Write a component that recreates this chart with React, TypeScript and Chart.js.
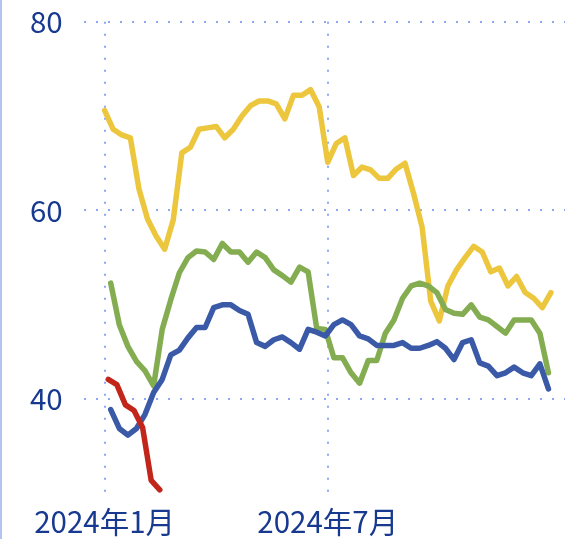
import React, { useEffect, useRef } from "react";
import { Chart, registerables } from "chart.js";

Chart.register(...registerables);

// x positions are day-of-year 2024 (weekly observations)
const xTickDays = [0, 182];
const xTickLabels = ["2024年1月", "2024年7月"];
const yTickValues = [40, 60, 80];

const yellowStartDay = 0;
const yellowValues = [
  70.6, 68.6, 68.0, 67.7, 62.3, 59.1, 57.3, 55.9, 59.0, 66.1, 66.7, 68.6, 68.75, 68.9,
  67.7, 68.6, 70.0, 71.1, 71.6, 71.6, 71.3, 69.7, 72.2, 72.2, 72.8, 71.0, 65.1, 67.1,
  67.7, 63.7, 64.6, 64.3, 63.4, 63.4, 64.4, 65.0, 61.8, 58.2, 50.4, 48.3, 52.0, 53.7,
  55.0, 56.2, 55.6, 53.5, 53.9, 52.0, 53.0, 51.3, 50.7, 49.7, 51.3,
];

const greenStartDay = 5;
const greenValues = [
  52.3, 47.9, 45.6, 44.0, 43.0, 41.4, 47.4, 50.55, 53.4, 55.0, 55.7, 55.6, 54.8, 56.5,
  55.6, 55.6, 54.5, 55.6, 55.0, 53.7, 53.1, 52.4, 54.0, 53.5, 47.5, 47.4, 44.4, 44.4,
  42.8, 41.7, 44.1, 44.1, 47.0, 48.4, 50.7, 52.0, 52.3, 52.0, 51.3, 49.5, 49.1, 49.0,
  50.0, 48.7, 48.4, 47.7, 47.0, 48.4, 48.4, 48.4, 47.0, 42.8,
];

const blueStartDay = 5;
const blueValues = [
  38.9, 36.9, 36.2, 36.9, 38.4, 40.7, 42.1, 44.7, 45.2, 46.5, 47.6, 47.6, 49.7, 50.0,
  50.0, 49.4, 49.0, 46.0, 45.6, 46.3, 46.6, 46.0, 45.3, 47.4, 47.1, 46.7, 47.9, 48.4,
  47.9, 46.7, 46.4, 45.7, 45.7, 45.7, 46.0, 45.4, 45.4, 45.7, 46.1, 45.4, 44.2, 46.0,
  46.3, 43.85, 43.5, 42.5, 42.8, 43.4, 42.8, 42.5, 43.75, 41.1,
];

const redStartDay = 3;
const redValues = [42.1, 41.55, 39.4, 38.8, 37.0, 31.4, 30.4];

const COLORS = {
  yellow: "#ECC73E",
  green: "#84AD52",
  blue: "#3A5AA8",
  red: "#C2261A",
  grid: "#8CA8F4",
  text: "#17398F",
  edge: "#B4C4EE",
};

function toPoints(start: number, values: number[]) {
  return values.map((v, i) => ({ x: start + 7 * i, y: v }));
}

const edgePlugin = {
  id: "edgeLine",
  beforeDraw(chart: any) {
    const ctx = chart.ctx;
    ctx.save();
    ctx.fillStyle = "#ffffff";
    ctx.fillRect(0, 0, chart.width, chart.height);
    ctx.fillStyle = COLORS.edge;
    ctx.fillRect(0, 0, 2, chart.height);
    ctx.restore();
  },
};

const FONT = { family: "'Noto Sans CJK SC'", size: 29.5 };

export default function App() {
  const ref = useRef<HTMLCanvasElement | null>(null);

  useEffect(() => {
    if (!ref.current) return;
    const mk = (data: any[], color: string) => ({
      data,
      borderColor: color,
      backgroundColor: color,
      borderWidth: 5.5,
      pointRadius: 0,
      fill: false,
      tension: 0,
      borderCapStyle: "round" as const,
      borderJoinStyle: "round" as const,
    });
    const chart = new Chart(ref.current, {
      type: "line",
      data: {
        datasets: [
          mk(toPoints(redStartDay, redValues), COLORS.red),
          mk(toPoints(blueStartDay, blueValues), COLORS.blue),
          mk(toPoints(greenStartDay, greenValues), COLORS.green),
          mk(toPoints(yellowStartDay, yellowValues), COLORS.yellow),
        ],
      },
      options: {
        animation: false,
        responsive: false,
        layout: { padding: { top: 21.7, left: 30, right: 0, bottom: -10 } },
        plugins: { legend: { display: false }, tooltip: { enabled: false } },
        scales: {
          x: {
            type: "linear",
            min: -17,
            max: 375.5,
            afterBuildTicks: (axis: any) => {
              axis.ticks = xTickDays.map((v) => ({ value: v }));
            },
            ticks: {
              autoSkip: false,
              maxRotation: 0,
              color: COLORS.text,
              padding: 10,
              font: FONT,
              callback: (v: any) => {
                const idx = xTickDays.indexOf(Number(v));
                return idx >= 0 ? xTickLabels[idx] : "";
              },
            },
            grid: { color: COLORS.grid, lineWidth: 2, drawTicks: false },
            border: { display: false, dash: [2, 10] },
          },
          y: {
            type: "linear",
            min: 30,
            max: 80,
            afterBuildTicks: (axis: any) => {
              axis.ticks = yTickValues.map((v) => ({ value: v }));
            },
            ticks: {
              color: COLORS.text,
              padding: 0,
              font: FONT,
            },
            grid: {
              color: COLORS.grid,
              lineWidth: 2,
              drawTicks: true,
              tickLength: 21,
              tickColor: "rgba(0,0,0,0)",
            },
            border: { display: false, dash: [2, 10] },
          },
        },
      },
      plugins: [edgePlugin],
    });
    return () => chart.destroy();
  }, []);

  return (
    <div style={{ position: "fixed", left: 0, top: 0, width: 565, height: 539, background: "#fff" }}>
      <canvas ref={ref} width={565} height={539} style={{ width: 565, height: 539, display: "block" }} />
    </div>
  );
}
